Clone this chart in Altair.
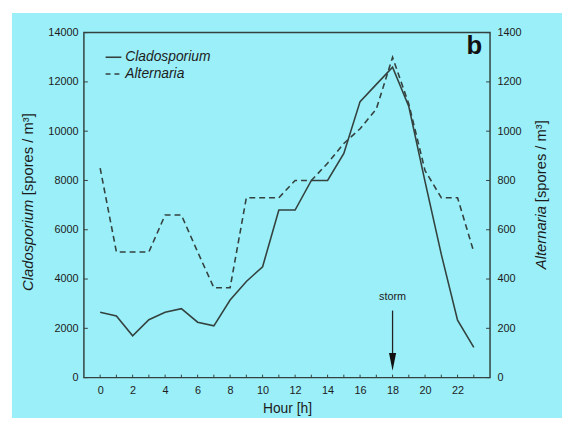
import altair as alt
import pandas as pd

hours = list(range(24))
cladosporium = [2650, 2500, 1700, 2350, 2650, 2800, 2250, 2100, 3150, 3900,
                4500, 6800, 6800, 8000, 8000, 9100, 11200, 11900, 12600, 11000,
                7950, 5000, 2330, 1230]
alternaria = [850, 510, 510, 510, 660, 660, 510, 365, 365, 730,
              730, 730, 800, 800, 870, 950, 1010, 1090, 1300, 1110,
              840, 730, 730, 510]
x_labels = list(range(0, 24, 2))
left_ticks = list(range(0, 14001, 2000))
right_ticks = list(range(0, 1401, 200))

W, H = 412, 350
FONT = "Liberation Sans"
LINE = "#34423f"
CYAN = "#9befF8"
TXT = "#1c1c1c"

df = pd.DataFrame({"hour": hours, "clado": cladosporium, "alt": alternaria})
one = pd.DataFrame({"a": [0]})

xscale = alt.Scale(domain=[-1, 24], nice=False, zero=False)
yl = alt.Scale(domain=[0, 14000], nice=False)
yr = alt.Scale(domain=[0, 1400], nice=False)

x_axis = alt.Axis(values=x_labels, title="Hour [h]", grid=False, ticks=False,
                  domain=False, labelFont=FONT, labelFontSize=11, labelColor=TXT,
                  labelPadding=7, labelOverlap=False, labelFlush=False, format="d",
                  titleFont=FONT, titleFontSize=14,
                  titleFontWeight="normal", titleColor=TXT, titlePadding=6, zindex=1)
yl_axis = alt.Axis(values=left_ticks, title=None, grid=False, ticks=False,
                   domain=False, labelFont=FONT, labelFontSize=11, labelOverlap=False,
                   labelFlush=False, format="d", labelColor=TXT, labelPadding=6, zindex=1)
yr_axis = alt.Axis(orient="right", values=right_ticks, title=None, grid=False,
                   ticks=False, domain=False, labelFont=FONT, labelFontSize=11,
                   labelOverlap=False, labelFlush=False, format="d",
                   labelColor=TXT, labelPadding=7, zindex=1)

bg = alt.Chart(one).mark_rect(color=CYAN).encode(
    x=alt.value(-73), x2=alt.value(W + 73), y=alt.value(-20), y2=alt.value(H + 41)
)
frame = alt.Chart(one).mark_rect(filled=False, stroke=LINE, strokeWidth=1.5).encode(
    x=alt.value(0), x2=alt.value(W), y=alt.value(0), y2=alt.value(H)
)

clado_line = alt.Chart(df).mark_line(color=LINE, strokeWidth=1.6).encode(
    x=alt.X("hour:Q", scale=xscale, axis=x_axis),
    y=alt.Y("clado:Q", scale=yl, axis=yl_axis),
)
xt = alt.Chart(pd.DataFrame({"hour": hours})).mark_rule(color=LINE, strokeWidth=1).encode(
    x=alt.X("hour:Q", scale=xscale, axis=x_axis), y=alt.value(H), y2=alt.value(H - 3)
)
ylt = alt.Chart(pd.DataFrame({"clado": left_ticks})).mark_rule(color=LINE, strokeWidth=1).encode(
    y=alt.Y("clado:Q", scale=yl, axis=yl_axis), x=alt.value(0), x2=alt.value(4)
)
left = alt.layer(clado_line, xt, ylt)

alt_line = alt.Chart(df).mark_line(color=LINE, strokeWidth=1.6, strokeDash=[6, 4]).encode(
    x=alt.X("hour:Q", scale=xscale, axis=x_axis),
    y=alt.Y("alt:Q", scale=yr, axis=yr_axis),
)
yrt = alt.Chart(pd.DataFrame({"alt": right_ticks})).mark_rule(color=LINE, strokeWidth=1).encode(
    y=alt.Y("alt:Q", scale=yr, axis=yr_axis), x=alt.value(W), x2=alt.value(W - 4)
)
right = alt.layer(alt_line, yrt)

# annotations
storm_x = pd.DataFrame({"hour": [18]})
storm_rule = alt.Chart(storm_x).mark_rule(color="#222", strokeWidth=1.3).encode(
    x=alt.X("hour:Q", scale=xscale, axis=x_axis), y=alt.value(282), y2=alt.value(330)
)
storm_head = alt.Chart(storm_x).mark_point(
    shape="M-0.4,-1L0.4,-1L0,1Z", filled=True, color="#111", size=324, opacity=1
).encode(x=alt.X("hour:Q", scale=xscale, axis=x_axis), y=alt.value(334))
storm_txt = alt.Chart(storm_x).mark_text(
    text="storm", font=FONT, fontSize=11, color=TXT, baseline="middle"
).encode(x=alt.X("hour:Q", scale=xscale, axis=x_axis), y=alt.value(268))

leg1 = alt.Chart(one).mark_rule(color=LINE, strokeWidth=1.6).encode(
    x=alt.value(22), x2=alt.value(38), y=alt.value(25))
leg2 = alt.Chart(one).mark_rule(color=LINE, strokeWidth=1.6, strokeDash=[5, 4]).encode(
    x=alt.value(22), x2=alt.value(38), y=alt.value(42))
legt1 = alt.Chart(one).mark_text(text="Cladosporium", font=FONT, fontSize=14, fontStyle="italic",
                                 color=TXT, align="left", baseline="middle").encode(
    x=alt.value(42), y=alt.value(25))
legt2 = alt.Chart(one).mark_text(text="Alternaria", font=FONT, fontSize=14, fontStyle="italic",
                                 color=TXT, align="left", baseline="middle").encode(
    x=alt.value(42), y=alt.value(42))
panel = alt.Chart(one).mark_text(text="b", font=FONT, fontSize=26, fontWeight="bold",
                                 color="#111", align="center", baseline="alphabetic").encode(
    x=alt.value(396), y=alt.value(22))

lt1 = alt.Chart(one).mark_text(text="Cladosporium", font=FONT, fontSize=15, fontStyle="italic",
                               color=TXT, align="left", baseline="middle", angle=270).encode(
    x=alt.value(-57), y=alt.value(262))
lt2 = alt.Chart(one).mark_text(text="[spores / m³]", font=FONT, fontSize=15,
                               color=TXT, align="left", baseline="middle", angle=270).encode(
    x=alt.value(-57), y=alt.value(165))
rt1 = alt.Chart(one).mark_text(text="Alternaria", font=FONT, fontSize=15, fontStyle="italic",
                               color=TXT, align="left", baseline="middle", angle=270).encode(
    x=alt.value(464), y=alt.value(240))
rt2 = alt.Chart(one).mark_text(text="[spores / m³]", font=FONT, fontSize=15,
                               color=TXT, align="left", baseline="middle", angle=270).encode(
    x=alt.value(464), y=alt.value(172))

annot = alt.layer(storm_rule, storm_head, storm_txt, leg1, leg2, legt1, legt2, panel,
                  lt1, lt2, rt1, rt2)

chart = alt.layer(bg, frame, left, right, annot).resolve_scale(y="independent").properties(
    width=W, height=H,
    autosize=alt.AutoSizeParams(type="none"),
    padding={"left": 77, "top": 22, "right": 73, "bottom": 38},
    background="white",
).configure_view(stroke=None)

chart.save("out.html", embed_options={"renderer": "svg", "actions": False})
